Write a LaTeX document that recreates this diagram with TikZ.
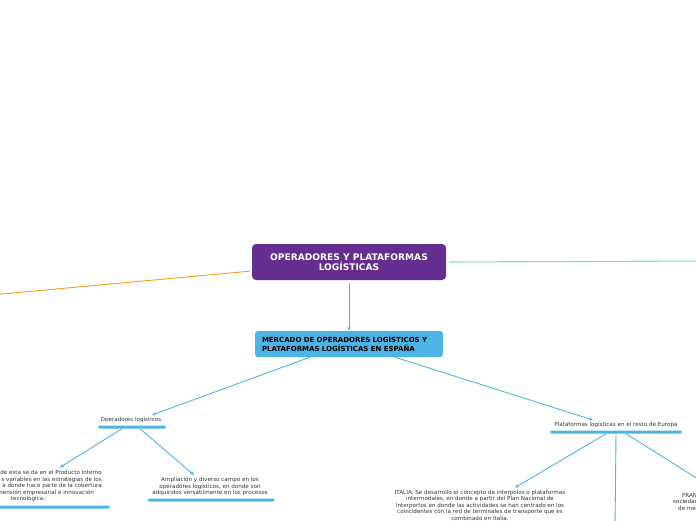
\documentclass[tikz,border=0pt]{standalone}
\usepackage{fontspec}
\setmainfont{DejaVu Sans}
\usetikzlibrary{arrows.meta}
\definecolor{morado}{HTML}{662D91}
\definecolor{celeste}{HTML}{4DB4E6}
\definecolor{naranja}{HTML}{F5A11C}
\definecolor{aguamarina}{HTML}{72E3D3}
\definecolor{gristexto}{HTML}{333333}
\begin{document}
\begin{tikzpicture}[x=1pt,y=-1pt,
    raiz/.style={fill=morado,text=white,rounded corners=4pt,font=\fontsize{9.1}{10.5}\selectfont\bfseries,align=center,minimum width=194pt,minimum height=36pt,inner sep=0pt},
    tema/.style={fill=celeste,rounded corners=3pt,font=\fontsize{7}{8.7}\selectfont\bfseries,align=left,text width=174pt,minimum height=26pt,inner xsep=7pt,inner ysep=0pt},
    texto/.style={text=gristexto,font=\fontsize{5.6}{6.5}\selectfont,align=center,inner sep=0pt},
    barra/.style={fill=celeste,rounded corners=1.5pt,minimum height=3pt,inner sep=0pt},
    flecha/.style={celeste,line width=0.9pt,-{Stealth[length=4pt,width=3.5pt]}},
    rama/.style={celeste,line width=0.9pt}]
      \path[use as bounding box] (0,0) rectangle (696,520);
      \clip (0,0) rectangle (696,520);
      %centro
      \node[raiz] (raiz) at (349,262) {OPERADORES Y PLATAFORMAS\\LOGÍSTICAS};
      \node[tema] (mercado) at (349,344) {MERCADO DE OPERADORES LOGÍSTICOS Y\\PLATAFORMAS LOGÍSTICAS EN ESPAÑA};
      \coordinate (izq) at (-20,296);
      \coordinate (der) at (710,261);
      \draw[naranja,line width=0.9pt,shorten <=2pt] ([yshift=-9pt]raiz.west) -- (izq);
      \draw[aguamarina,line width=1.1pt,shorten <=3pt] (raiz.east) -- (der);
      \draw[flecha,shorten <=3pt] (raiz) -- (mercado);
      %operadores
      \node[texto] (operadores) at (131,420) {Operadores logísticos};
      \node[barra,minimum width=68pt] (barraop) at (132,427) {};
      \node[texto,anchor=east,align=right] (pib) at (102,483) {de esta se da en el Producto Interno\\s variables en las estrategias de los\hspace*{4pt}\\a donde hace parte de la cobertura\hspace*{5pt}\\mensión empresarial e innovación\hspace*{8pt}};
      \node[texto] (tecno) at (28,499) {tecnológica.};
      \node[barra,minimum width=120pt] (barrapib) at (50,507) {};
      \node[texto] (ampliacion) at (210,486.5) {Ampliación y diverso campo en los\\operadores logísticos, en donde son\\adquiridos versátilmente en los procesos};
      \node[barra,minimum width=127pt] (barraamp) at (211,500) {};
      %plataformas
      \node[texto] (plataformas) at (616,425) {Plataformas logísticas en el resto de Europa};
      \node[barra,minimum width=132pt] (barrapl) at (616,432) {};
      \node[texto] (italia) at (480,505) {ITALIA: Se desarrollo el concepto de interpolos o plataformas\\intermodales, en donde a partir del Plan Nacional de\\Interportos en donde las actividades se han centrado en los\\coincidentes con la red de terminales de transporte que es\\combinado en Italia.};
      \node[texto,anchor=west,align=left] (francia) at (673,501.5) {\hspace*{9pt}FRAN\\sociedad\\\hspace*{5pt}de me};
      \coordinate (abajo) at (615,530);
      \coordinate (fin) at (706,484);
      %flechas
      \draw[flecha] ([xshift=-39pt]mercado.south) -- ([xshift=21pt,yshift=2pt]operadores.north);
      \draw[flecha] ([xshift=46pt]mercado.south) -- ([xshift=-23pt,yshift=2pt]plataformas.north);
      \draw[flecha] ([xshift=-10pt]barraop.south) -- ([xshift=-42pt,yshift=3pt]pib.north east);
      \draw[flecha] ([xshift=8pt]barraop.south) -- ([xshift=-16pt,yshift=2pt]ampliacion.north);
      \draw[flecha] ([xshift=-10pt]barrapl.south) -- ([xshift=35pt,yshift=2pt]italia.north);
      \draw[rama] (barrapl.south) -- (abajo);
      \draw[flecha] ([xshift=10pt]barrapl.south) -- (fin);
\end{tikzpicture}
\end{document}
